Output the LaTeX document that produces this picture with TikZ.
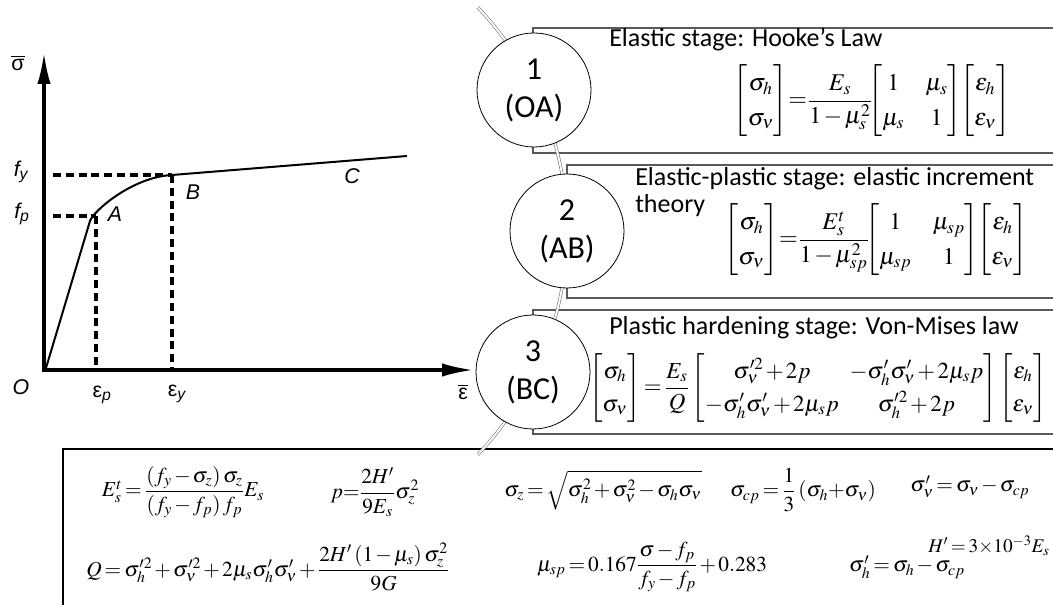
\documentclass[tikz,border=0pt]{standalone}
\usepackage{amsmath}
\usepackage{mathptmx}
\usepackage[no-math]{fontspec}
\setmainfont{Carlito}
\newfontfamily\grfont{Liberation Sans}
\usetikzlibrary{arrows.meta}

\newcommand{\tightmath}{\thickmuskip=2.5mu plus 1mu\medmuskip=1.8mu plus 1mu\arraycolsep=4pt\renewcommand{\arraystretch}{1.2}}

\tikzset{
  axisline/.style={line width=2.6pt, -{Latex[length=24pt,width=10pt]}},
  guideline/.style={line width=2.4pt, dash pattern=on 6pt off 3.6pt},
  curveline/.style={line width=1.5pt},
  grlabel/.style={inner sep=0pt, font=\grfont\fontsize{16}{18}\selectfont\itshape},
  grgreek/.style={inner sep=0pt, font=\grfont\fontsize{16}{18}\selectfont},
  stagecircle/.style={circle, draw=black, line width=0.6pt, fill=white, minimum size=85.5pt, inner sep=0pt, align=center, font=\fontsize{24}{28.5}\selectfont},
  stagebox/.style={draw=black!65, line width=0.8pt},
  stagetitle/.style={anchor=west, inner sep=0pt, align=left, font=\fontsize{19.5}{20}\selectfont},
  eqn/.style={inner sep=0pt, font=\fontsize{18}{21.6}\selectfont, execute at begin node=\tightmath},
  eqsmall/.style={inner sep=0pt, font=\fontsize{16}{19}\selectfont, execute at begin node=\tightmath},
  ringarc/.style={draw=black!55, double=white, double distance=1.4pt, line width=0.45pt}
}

\begin{document}
\begin{tikzpicture}[x=0.75pt, y=-0.75pt]
  \useasboundingbox (0,0) rectangle (1053,605);
  \clip (0,0) rectangle (1053,605);

  \coordinate (o) at (44,370);
  \coordinate (ptA) at (96,216);
  \coordinate (ptB) at (172,175);
  \coordinate (ptC) at (407,156);
  \draw[axisline] (44,372) -- (44,52);
  \draw[axisline] (42,370) -- (474,370);
  \draw[curveline] (46,368) -- (90,221) .. controls (93,211.5) and (132,177) .. (ptB) -- (ptC);
  \draw[guideline] (53,216) -- (ptA);
  \draw[guideline] (ptA) -- (96,368);
  \draw[guideline] (53,175) -- (ptB);
  \draw[guideline] (ptB) -- (172,368);

  \node[grgreek] (lsig) at (18,63) {$\overline{\hbox{σ}}$};
  \node[grgreek] (leps) at (463,392) {$\overline{\hbox{ε}}$};
  \node[grlabel] (lfy) at (21,172) {f\textsubscript{y}};
  \node[grlabel] (lfp) at (22,214) {f\textsubscript{p}};
  \node[grlabel] (lO) at (21,387) {O};
  \node[grlabel] (lA) at (115,214) {A};
  \node[grlabel] (lB) at (193,192) {B};
  \node[grlabel] (lC) at (352,176) {C};
  \node[grgreek] (lep) at (102,395) {ε\textsubscript{\itshape p}};
  \node[grgreek] (ley) at (177,394) {ε\textsubscript{\itshape y}};

  \draw[stagebox] (533,28) rectangle (1070,153);
  \draw[stagebox] (567,165) rectangle (1070,298);
  \draw[stagebox] (533,310) rectangle (1070,434);
  \draw[black, line width=1.1pt] (63,620) -- (63,449) -- (1070,449);

  \draw[ringarc] (242,231) ++(-43.5:325) arc[start angle=-43.5, end angle=43.5, radius=325];

  \node[stagecircle] (c1) at (534,90) {1\\(OA)};
  \node[stagecircle] (c2) at (567,231) {2\\(AB)};
  \node[stagecircle] (c3) at (533,372) {3\\(BC)};

  \node[stagetitle] (t1) at (609,40) {Elastic stage: Hooke’s Law};
  \node[stagetitle] (t2) at (635,192) {Elastic-plastic stage: elastic increment\\theory};
  \node[stagetitle] (t3) at (609,328) {Plastic hardening stage: Von-Mises law};

  \node[eqn] (eq1) at (872,101) {$\begin{bmatrix}\sigma_h\\ \sigma_\nu\end{bmatrix}\mkern-2mu=\mkern-2mu\dfrac{E_s}{1-\mu_s^2}\mkern-3mu{\arraycolsep=8pt\begin{bmatrix}1&\mu_s\\ \mu_s&1\end{bmatrix}}\mkern-3mu\begin{bmatrix}\varepsilon_h\\ \varepsilon_\nu\end{bmatrix}$};
  \node[eqn] (eq2) at (876,240) {$\begin{bmatrix}\sigma_h\\ \sigma_\nu\end{bmatrix}\mkern-2mu=\mkern-2mu\dfrac{E_s^t}{1-\mu_{sp}^2}\mkern-3mu{\arraycolsep=8pt\begin{bmatrix}1&\mu_{sp}\\ \mu_{sp}&1\end{bmatrix}}\mkern-3mu\begin{bmatrix}\varepsilon_h\\ \varepsilon_\nu\end{bmatrix}$};
  \node[eqn, font=\fontsize{17.2}{20.6}\selectfont] (eq3) at (818,388) {$\begin{bmatrix}\sigma_h\\ \sigma_\nu\end{bmatrix}=\dfrac{E_s}{Q}\begin{bmatrix}\sigma_\nu'^2+2p & -\sigma_h'\sigma_\nu'+2\mu_s p\\ -\sigma_h'\sigma_\nu'+2\mu_s p & \sigma_h'^2+2p\end{bmatrix}\begin{bmatrix}\varepsilon_h\\ \varepsilon_\nu\end{bmatrix}$};

  \node[eqsmall] (est) at (183,492) {$E_s^t=\dfrac{\left(f_y-\sigma_z\right)\sigma_z}{\left(f_y-f_p\right)f_p}E_s$};
  \node[eqsmall] (pp) at (375,492) {$p{=}\dfrac{2H'}{9E_s}\sigma_z^2$};
  \node[eqsmall] (sz) at (603,490) {$\sigma_z=\sqrt{\sigma_h^2+\sigma_\nu^2-\sigma_h\sigma_\nu}$};
  \node[eqsmall] (scp) at (803,490) {$\sigma_{cp}=\dfrac{1}{3}\left(\sigma_h{+}\sigma_\nu\right)$};
  \node[eqsmall] (snu) at (970,487) {$\sigma_\nu'=\sigma_\nu-\sigma_{cp}$};
  \node[eqsmall] (qq) at (268,567) {$Q=\sigma_h'^2+\sigma_\nu'^2+2\mu_s\sigma_h'\sigma_\nu'+\dfrac{2H'\left(1-\mu_s\right)\sigma_z^2}{9G}$};
  \node[eqsmall] (musp) at (652,567) {$\mu_{sp}=0.167\dfrac{\sigma-f_p}{f_y-f_p}+0.283$};
  \node[eqsmall] (sh) at (907,567) {$\sigma_h'=\sigma_h-\sigma_{cp}$};
  \node[eqsmall, font=\fontsize{14.5}{17}\selectfont] (hh) at (989,546) {$H'=3{\times}10^{-3}E_s$};
\end{tikzpicture}
\end{document}
